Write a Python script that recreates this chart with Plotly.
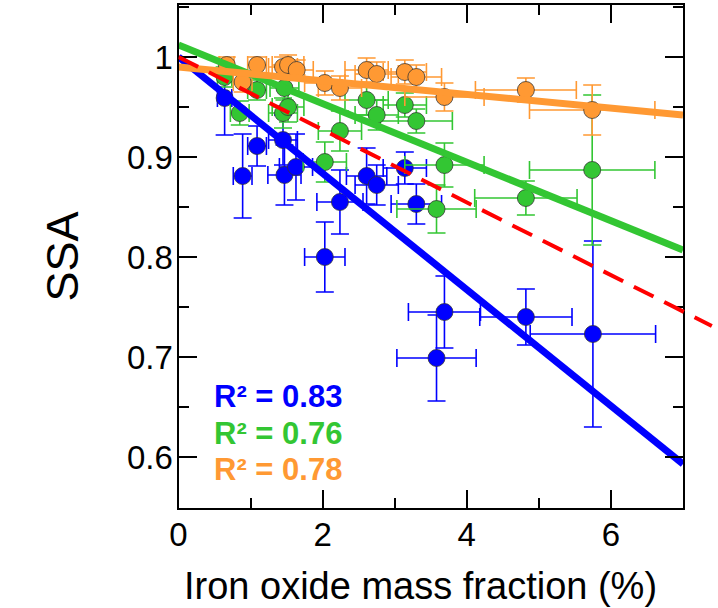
import plotly.graph_objects as go

W, H = 718, 608

# ---- data ----
blue_x    = [0.64, 0.89, 1.09, 1.45, 1.47, 1.63, 2.03, 2.24, 2.61, 2.75, 3.14, 3.30, 3.69, 3.58, 4.82, 5.75]
blue_y    = [0.959, 0.881, 0.911, 0.917, 0.882, 0.890, 0.800, 0.855, 0.881, 0.872, 0.889, 0.853, 0.745, 0.699, 0.740, 0.723]
blue_xerr = [0.10, 0.13, 0.13, 0.20, 0.23, 0.23, 0.28, 0.32, 0.28, 0.30, 0.30, 0.35, 0.50, 0.55, 0.64, 0.87]
blue_yerr = [0.037, 0.042, 0.020, 0.025, 0.030, 0.033, 0.035, 0.032, 0.028, 0.020, 0.016, 0.020, 0.036, 0.043, 0.028, 0.093]

green_x    = [0.64, 0.85, 1.09, 1.45, 1.47, 1.52, 2.03, 2.24, 2.61, 2.75, 3.14, 3.30, 3.58, 3.69, 4.82, 5.74]
green_y    = [0.980, 0.944, 0.967, 0.944, 0.969, 0.950, 0.895, 0.926, 0.957, 0.942, 0.952, 0.936, 0.848, 0.892, 0.859, 0.887]
green_xerr = [0.10, 0.13, 0.13, 0.20, 0.20, 0.22, 0.30, 0.30, 0.30, 0.30, 0.30, 0.50, 0.55, 0.55, 0.71, 0.87]
green_yerr = [0.010, 0.012, 0.010, 0.015, 0.012, 0.015, 0.020, 0.020, 0.015, 0.015, 0.012, 0.012, 0.024, 0.022, 0.017, 0.075]

orange_x    = [0.67, 0.89, 1.09, 1.45, 1.52, 1.64, 2.03, 2.24, 2.61, 2.75, 3.14, 3.30, 3.69, 4.82, 5.74]
orange_y    = [0.992, 0.975, 0.992, 0.990, 0.992, 0.987, 0.974, 0.969, 0.987, 0.983, 0.985, 0.980, 0.960, 0.967, 0.947]
orange_xerr = [0.10, 0.13, 0.13, 0.20, 0.22, 0.23, 0.28, 0.30, 0.30, 0.30, 0.30, 0.35, 0.55, 0.70, 0.87]
orange_yerr = [0.008, 0.010, 0.008, 0.010, 0.010, 0.010, 0.012, 0.012, 0.012, 0.012, 0.012, 0.012, 0.014, 0.012, 0.025]

fit_x      = [0.0, 7.0]
blue_fit   = [1.000, 0.593]
green_fit  = [1.012, 0.807]
orange_fit = [0.990, 0.942]

ref_x = [0.0, 7.4]
ref_y = [1.000, 0.731]

r2_labels = ["R² = 0.83", "R² = 0.76", "R² = 0.78"]
r2_y = [0.661, 0.624, 0.588]

x_ticks = [0, 2, 4, 6]
y_ticks = [0.6, 0.7, 0.8, 0.9, 1.0]
y_ticktext = ["0.6", "0.7", "0.8", "0.9", "1"]

x_title = "Iron oxide mass fraction (%)"
y_title = "SSA"

# ---- styles ----
BLUE, GREEN, ORANGE, RED = "#0000FF", "#33C633", "#FF9933", "#FF0000"
FONT = "Liberation Sans, Arial, sans-serif"

# plot frame in pixels
PX0, PX1, PY0, PY1 = 178.5, 683.0, 5.0, 508.0
XR = [0, 7]
YR = [0.549, 1.052]

fig = go.Figure()

def pts(x, y, xe, ye, c):
    fig.add_trace(go.Scatter(
        x=x, y=y, mode="markers",
        marker=dict(size=17, color=c, line=dict(width=1, color="rgba(50,50,50,0.75)")),
        error_x=dict(type="data", array=xe, color=c, thickness=1.6, width=9),
        error_y=dict(type="data", array=ye, color=c, thickness=1.6, width=9),
        showlegend=False, cliponaxis=True))

pts(blue_x, blue_y, blue_xerr, blue_yerr, BLUE)
pts(green_x, green_y, green_xerr, green_yerr, GREEN)
pts(orange_x, orange_y, orange_xerr, orange_yerr, ORANGE)

for fy, c in [(blue_fit, BLUE), (green_fit, GREEN), (orange_fit, ORANGE)]:
    fig.add_trace(go.Scatter(x=fit_x, y=fy, mode="lines", line=dict(color=c, width=7), showlegend=False))

# red dashed reference line on an invisible, wider axis pair (extends past the frame)
x2_end = XR[1] * (W - PX0) / (PX1 - PX0)
fig.add_trace(go.Scatter(x=ref_x, y=ref_y, mode="lines", xaxis="x2", yaxis="y2",
                         line=dict(color=RED, width=4, dash="22px,12px"), showlegend=False))

for txt, yy, c in zip(r2_labels, r2_y, [BLUE, GREEN, ORANGE]):
    fig.add_annotation(x=0.47, y=yy, xref="x", yref="y", text=f"<b>{txt}</b>", showarrow=False,
                       xanchor="left", yanchor="middle", font=dict(family=FONT, size=31, color=c))

# x-axis title (centred slightly left of the frame centre, as in the reference)
fig.add_annotation(x=420 / W, y=1 - 586 / H, xref="paper", yref="paper", text=x_title, showarrow=False,
                   xanchor="center", yanchor="middle", font=dict(family=FONT, size=38, color="black"))

xdom = [PX0 / W, PX1 / W]
ydom = [1 - PY1 / H, 1 - PY0 / H]

axis_common = dict(showline=True, linewidth=2, linecolor="black", mirror="allticks",
                   ticks="inside", ticklen=18, tickwidth=2, tickcolor="black",
                   showgrid=False, zeroline=False,
                   tickfont=dict(family=FONT, size=33, color="black"))

fig.update_layout(
    width=W, height=H, margin=dict(l=0, r=0, t=0, b=0),
    paper_bgcolor="white", plot_bgcolor="rgba(0,0,0,0)",
    xaxis=dict(domain=xdom, range=XR, tickvals=x_ticks, anchor="y",
               minor=dict(dtick=1, tick0=0, ticks="inside", ticklen=10, tickwidth=2, tickcolor="black"),
               automargin=False, ticklabelstandoff=-4, **axis_common),
    yaxis=dict(domain=ydom, range=YR, tickvals=y_ticks, ticktext=y_ticktext, anchor="x",
               minor=dict(dtick=0.05, tick0=0.55, ticks="inside", ticklen=10, tickwidth=2, tickcolor="black"),
               title=dict(text=y_title, font=dict(family=FONT, size=45, color="black"), standoff=34),
               automargin=False, ticklabelstandoff=-3, **axis_common),
    xaxis2=dict(domain=[PX0 / W, 1.0], range=[0, x2_end], anchor="y2", visible=False, fixedrange=True),
    yaxis2=dict(domain=ydom, range=YR, anchor="x2", visible=False, fixedrange=True),
)

fig.write_html("out.html")
